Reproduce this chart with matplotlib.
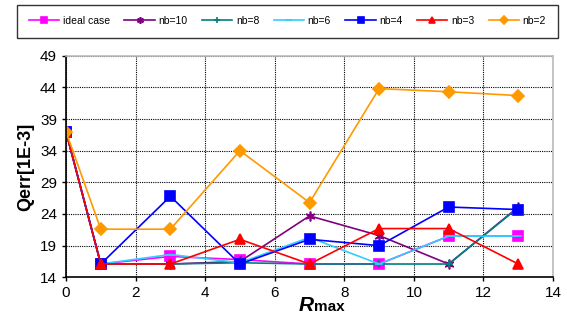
import matplotlib
matplotlib.use("Agg")
import matplotlib.pyplot as plt

plt.rcParams['font.family'] = ['Liberation Sans', 'DejaVu Sans']

r_max = [0, 1, 3, 5, 7, 9, 11, 13]

ideal = [37.0, 16.1, 17.3, 16.8, 16.1, 16.1, 20.5, 20.5]
nb10 = [37.0, 16.1, 16.1, 16.5, 23.7, 20.6, 16.1, 25.1]
nb8 = [37.0, 16.1, 16.1, 16.3, 16.1, 16.1, 16.1, 25.0]
nb6 = [37.0, 16.1, 17.6, 16.3, 20.3, 16.1, 20.5, 20.5]
nb4 = [37.0, 16.1, 26.8, 16.1, 20.0, 19.0, 25.1, 24.7]
nb3 = [37.0, 16.1, 16.1, 20.0, 16.1, 21.7, 21.7, 16.1]
nb2 = [37.0, 21.6, 21.6, 34.0, 25.8, 43.8, 43.3, 42.7]

series = [
    ('ideal case', ideal, '#FF00FF', 's', 7),
    ('nb=10', nb10, '#800080', (6, 2, 0), 7),
    ('nb=8', nb8, '#008080', '+', 6),
    ('nb=6', nb6, '#33CCFF', '_', 6),
    ('nb=4', nb4, '#0000FF', 's', 7),
    ('nb=3', nb3, '#FF0000', '^', 7),
    ('nb=2', nb2, '#FF9900', 'D', 6),
]

fig = plt.figure(figsize=(5.67, 3.2), dpi=100)
ax = fig.add_axes([0.1164, 0.1334, 0.859, 0.6926])

for name, vals, col, mk, ms in series:
    ax.plot(r_max, vals, color=col, marker=mk, markersize=ms, lw=1.2,
            markeredgewidth=1.2, label=name)

ax.set_xlim(0, 14)
ax.set_ylim(14, 49)
ax.set_xticks(range(0, 15, 2))
ax.set_yticks(range(14, 50, 5))
ax.grid(True, color='black', linestyle=(0, (1, 1)), linewidth=0.8)
ax.set_axisbelow(True)
ax.tick_params(axis='both', labelsize=11, direction='out', length=3, width=1)

for side in ['top', 'right']:
    ax.spines[side].set_color('#BBBBBB')
    ax.spines[side].set_linewidth(1.2)
for side in ['left', 'bottom']:
    ax.spines[side].set_linewidth(1.2)

ax.set_ylabel('Qerr[1E-3]', fontsize=13, fontweight='bold', labelpad=4)

# x label: bold italic R with a smaller "max" beside it
fig.text(0.554, 0.028, 'R', fontsize=15, fontweight='bold', fontstyle='italic',
         ha='right', va='baseline')
fig.text(0.554, 0.028, 'max', fontsize=11, fontweight='bold',
         ha='left', va='baseline')

leg = fig.legend(loc='center', bbox_to_anchor=(0.507, 0.934), ncol=7,
                 fontsize=7.5, frameon=True, fancybox=False, edgecolor='black',
                 handlelength=2.9, handletextpad=0.35, columnspacing=1.4,
                 borderpad=1.1, markerscale=0.7)
leg.get_frame().set_linewidth(1.0)

fig.savefig('out.png', dpi=100)
